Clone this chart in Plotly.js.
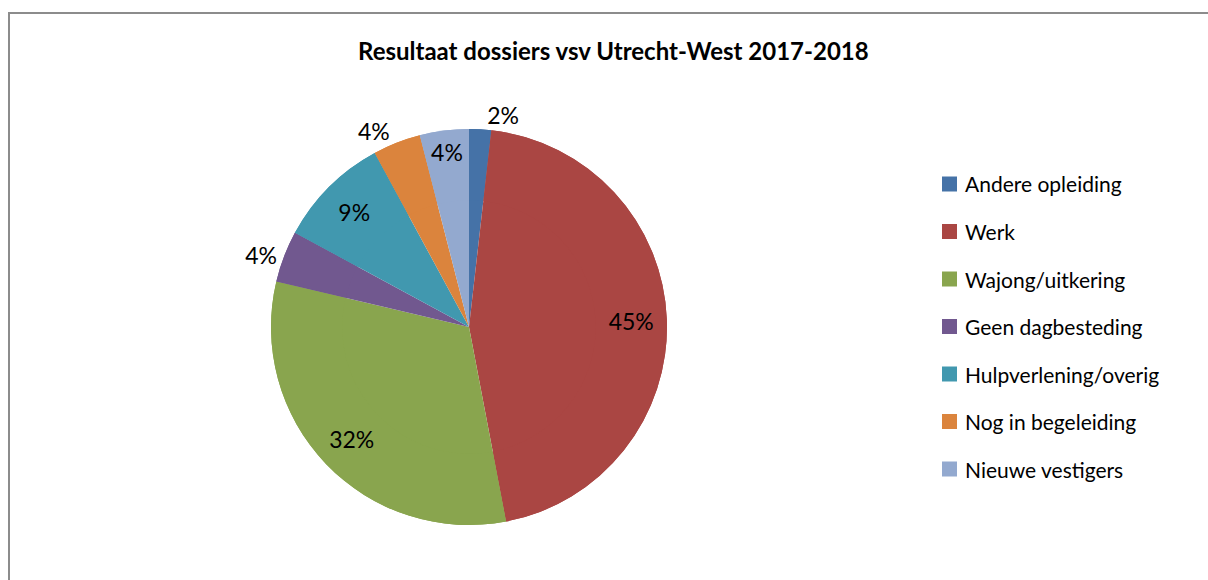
<!DOCTYPE html>
<html>
<head>
<meta charset="utf-8">
<script src="https://cdn.plot.ly/plotly-3.0.1.min.js"></script>
<style>
  html, body { margin: 0; padding: 0; background: #ffffff; }
  #frame { position: absolute; left: 8px; top: 12px; width: 1400px; height: 800px; border: 2px solid #8c8c8c; }
  #chart { position: absolute; left: 0; top: 0; width: 1208px; height: 580px; }
</style>
</head>
<body>
<div id="frame"></div>
<div id="chart"></div>
<script>
const categories = ['Andere opleiding', 'Werk', 'Wajong/uitkering', 'Geen dagbesteding', 'Hulpverlening/overig', 'Nog in begeleiding', 'Nieuwe vestigers'];
const shares = [1.8, 45.2, 31.7, 4.2, 9.2, 3.9, 4.0];
const colors = ['#4572A7', '#AA4643', '#89A54E', '#71588F', '#4198AF', '#DB843D', '#93A9CF'];
const labelPositions = ['outside', 'inside', 'inside', 'outside', 'inside', 'outside', 'inside'];
const chartTitle = 'Resultaat dossiers vsv Utrecht-West 2017-2018';

const W = 1208, H = 580;
const cx = 469, cy = 327, R = 198;
const domain = { x: [(cx - R) / W, (cx + R) / W], y: [(H - cy - R) / H, (H - cy + R) / H] };

const font = 'Lato, "Open Sans", sans-serif';

// full pie (no text) underneath
const basePie = {
  type: 'pie', labels: categories, values: shares, sort: false,
  direction: 'clockwise', rotation: 0,
  marker: { colors: colors, line: { width: 0 } },
  textinfo: 'none', hoverinfo: 'skip', showlegend: false, domain: domain
};
// identical ring on top carrying the labels, so inside labels sit in the outer part
const labelPie = {
  type: 'pie', labels: categories, values: shares, sort: false,
  direction: 'clockwise', rotation: 0, hole: 0.64,
  marker: { colors: colors, line: { width: 0 } },
  texttemplate: '%{percent:.0%}',
  textposition: labelPositions,
  insidetextorientation: 'horizontal',
  textfont: { family: font, size: 23, color: '#000000' },
  insidetextfont: { family: font, size: 23, color: '#000000' },
  outsidetextfont: { family: font, size: 23, color: '#000000' },
  hoverinfo: 'label+percent', showlegend: false, domain: domain
};

const annotations = [{
  text: '<b>' + chartTitle + '</b>',
  xref: 'paper', yref: 'paper', x: 613 / W, y: 1 - 50 / H,
  xanchor: 'center', yanchor: 'middle', showarrow: false,
  font: { family: font, size: 24, color: '#000000' }
}];
const shapes = [];
const legX = 942, legTop = 184, legStep = 47.5, sq = 15;
categories.forEach((c, i) => {
  const y = legTop + i * legStep;
  shapes.push({ type: 'rect', xref: 'paper', yref: 'paper',
    x0: legX / W, x1: (legX + sq) / W, y0: 1 - (y + sq / 2) / H, y1: 1 - (y - sq / 2) / H,
    fillcolor: colors[i], line: { width: 0 } });
  annotations.push({ text: c, xref: 'paper', yref: 'paper', x: (legX + sq + 6) / W, y: 1 - y / H,
    xanchor: 'left', yanchor: 'middle', showarrow: false,
    font: { family: font, size: 21, color: '#000000' } });
});

const layout = {
  width: W, height: H,
  margin: { l: 0, r: 0, t: 0, b: 0 },
  paper_bgcolor: 'rgba(0,0,0,0)', plot_bgcolor: 'rgba(0,0,0,0)',
  showlegend: false,
  uniformtext: { minsize: 23, mode: 'show' },
  annotations: annotations,
  shapes: shapes
};

Plotly.newPlot('chart', [basePie, labelPie], layout, { displayModeBar: false, staticPlot: true });
</script>
</body>
</html>
